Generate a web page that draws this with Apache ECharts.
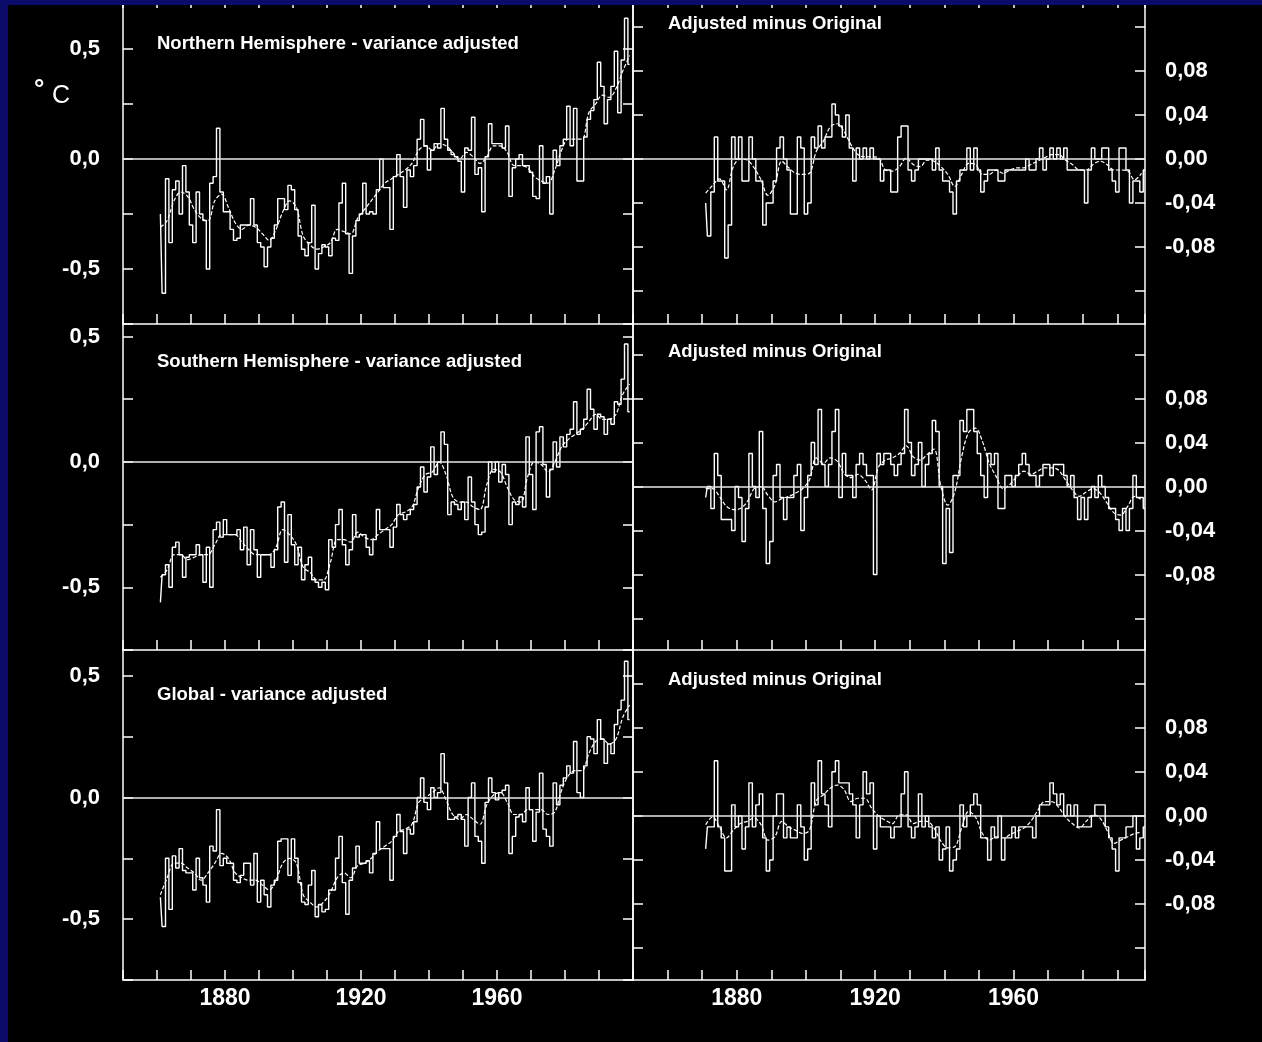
<!DOCTYPE html>
<html>
<head>
<meta charset="utf-8">
<title>Variance adjusted temperature series</title>
<script src="https://cdn.jsdelivr.net/npm/echarts@6/dist/echarts.min.js"></script>
<style>
  html, body { margin: 0; padding: 0; background: #000; }
  #chart { width: 1262px; height: 1042px; }
</style>
</head>
<body>
<div id="chart"></div>
<script>
// first year of each series (annual steps) and spacing of the smoothed curves
var tempStartYear = 1861;
var diffStartYear = 1871;
var smoothStepYears = 2;

// tick label years on the bottom axes
var yearLabels = [1880, 1920, 1960];
// right hand axis: ticks and labelled values
var diffTickValues = [-0.12, -0.08, -0.04, 0, 0.04, 0.08, 0.12];
var diffLabelValues = [-0.08, -0.04, 0, 0.04, 0.08];

// annual anomalies, degC, 1861-1999
var nhAnnual = [
  -0.25,-0.61,-0.09,-0.38,-0.14,-0.10,-0.25,-0.03,-0.15,-0.30,
  -0.38,-0.15,-0.25,-0.28,-0.50,-0.11,-0.08,0.14,-0.15,-0.24,
  -0.24,-0.32,-0.37,-0.36,-0.30,-0.30,-0.30,-0.18,-0.30,-0.38,
  -0.40,-0.49,-0.40,-0.36,-0.30,-0.18,-0.18,-0.23,-0.12,-0.14,
  -0.23,-0.35,-0.41,-0.44,-0.38,-0.21,-0.50,-0.43,-0.39,-0.40,
  -0.44,-0.36,-0.37,-0.20,-0.11,-0.34,-0.52,-0.35,-0.28,-0.25,
  -0.11,-0.25,-0.24,-0.25,-0.14,0.00,-0.13,-0.13,-0.32,-0.08,
  0.02,-0.08,-0.22,-0.05,-0.08,-0.03,0.09,0.18,0.06,-0.05,
  0.04,0.07,0.05,0.23,0.09,0.04,0.02,0.01,-0.01,-0.15,
  0.05,0.04,0.19,-0.07,-0.04,-0.24,0.01,0.16,0.07,0.07,
  0.07,0.05,0.15,-0.17,-0.04,0.00,0.02,-0.03,-0.03,-0.06,
  -0.17,-0.18,0.06,-0.11,-0.08,-0.25,0.04,-0.03,0.06,0.09,
  0.24,0.06,0.23,-0.10,-0.10,0.10,0.18,0.22,0.27,0.44,
  0.33,0.16,0.27,0.33,0.49,0.21,0.45,0.64,0.43
];
var shAnnual = [
  -0.56,-0.45,-0.41,-0.50,-0.34,-0.32,-0.37,-0.46,-0.38,-0.37,
  -0.37,-0.33,-0.37,-0.48,-0.34,-0.50,-0.27,-0.24,-0.30,-0.23,
  -0.29,-0.29,-0.29,-0.27,-0.35,-0.26,-0.41,-0.27,-0.35,-0.46,
  -0.37,-0.37,-0.37,-0.42,-0.35,-0.18,-0.16,-0.40,-0.21,-0.33,
  -0.41,-0.34,-0.47,-0.41,-0.38,-0.47,-0.48,-0.50,-0.48,-0.51,
  -0.31,-0.34,-0.25,-0.19,-0.33,-0.41,-0.35,-0.21,-0.30,-0.29,
  -0.29,-0.34,-0.37,-0.31,-0.19,-0.27,-0.27,-0.27,-0.34,-0.26,
  -0.17,-0.21,-0.23,-0.21,-0.19,-0.17,-0.10,-0.02,-0.12,-0.06,
  0.06,-0.05,0.00,0.12,0.07,-0.21,-0.16,-0.17,-0.19,-0.16,
  -0.23,-0.06,-0.16,-0.25,-0.29,-0.28,-0.18,0.00,-0.04,0.00,
  -0.08,-0.01,-0.05,-0.25,-0.16,-0.17,-0.14,-0.18,0.10,-0.05,
  -0.19,0.12,0.14,-0.01,-0.14,-0.03,0.08,-0.02,0.10,0.06,
  0.11,0.13,0.24,0.11,0.13,0.17,0.29,0.21,0.13,0.19,
  0.18,0.11,0.17,0.15,0.24,0.23,0.33,0.47,0.20
];
var glAnnual = [
  -0.41,-0.53,-0.25,-0.46,-0.24,-0.29,-0.21,-0.30,-0.31,-0.31,
  -0.38,-0.25,-0.33,-0.36,-0.43,-0.20,-0.22,-0.05,-0.28,-0.25,
  -0.27,-0.27,-0.34,-0.35,-0.32,-0.27,-0.27,-0.36,-0.23,-0.43,
  -0.34,-0.40,-0.45,-0.36,-0.34,-0.18,-0.17,-0.17,-0.32,-0.17,
  -0.25,-0.35,-0.43,-0.44,-0.36,-0.30,-0.49,-0.44,-0.47,-0.46,
  -0.38,-0.38,-0.25,-0.16,-0.35,-0.48,-0.34,-0.29,-0.20,-0.27,
  -0.27,-0.26,-0.31,-0.23,-0.10,-0.21,-0.21,-0.21,-0.34,-0.16,
  -0.07,-0.14,-0.23,-0.13,-0.15,-0.10,0.00,0.08,-0.02,-0.05,
  0.04,0.00,0.02,0.18,0.06,-0.09,-0.09,-0.08,-0.07,-0.09,
  -0.20,0.00,0.06,-0.16,-0.18,-0.27,-0.02,0.08,0.02,-0.01,
  0.02,0.03,0.05,-0.23,-0.16,-0.08,-0.07,-0.10,0.04,-0.05,
  -0.18,-0.06,0.10,-0.13,-0.16,-0.20,0.06,-0.03,0.05,0.08,
  0.13,0.10,0.23,0.02,0.00,0.13,0.25,0.24,0.18,0.32,
  0.24,0.14,0.22,0.18,0.30,0.36,0.40,0.56,0.32
];

// smoothed curves, every second year from 1861
var nhSmooth = [
  -0.31,-0.28,-0.19,-0.15,-0.17,-0.23,-0.27,-0.28,-0.19,-0.16,
  -0.22,-0.29,-0.32,-0.30,-0.31,-0.34,-0.37,-0.32,-0.24,-0.19,
  -0.22,-0.35,-0.39,-0.41,-0.40,-0.38,-0.32,-0.33,-0.34,-0.27,
  -0.23,-0.19,-0.15,-0.11,-0.09,-0.07,-0.05,-0.02,0.04,0.06,
  0.04,0.07,0.06,0.03,0.00,0.03,0.01,-0.02,0.01,0.06,
  0.06,0.03,-0.03,-0.03,-0.04,-0.08,-0.10,-0.11,-0.05,0.04,
  0.09,0.09,0.09,0.21,0.25,0.29,0.28,0.32,0.40,0.47
];
var shSmooth = [
  -0.46,-0.43,-0.37,-0.37,-0.39,-0.38,-0.37,-0.37,-0.33,-0.29,
  -0.29,-0.29,-0.32,-0.35,-0.37,-0.37,-0.37,-0.34,-0.27,-0.29,
  -0.33,-0.42,-0.44,-0.47,-0.47,-0.40,-0.31,-0.31,-0.32,-0.28,
  -0.30,-0.31,-0.29,-0.27,-0.25,-0.21,-0.20,-0.18,-0.10,-0.05,
  -0.04,0.00,-0.05,-0.14,-0.16,-0.16,-0.18,-0.19,-0.09,-0.03,
  -0.04,-0.10,-0.15,-0.16,-0.06,0.00,-0.01,-0.04,0.00,0.06,
  0.09,0.11,0.13,0.16,0.19,0.17,0.17,0.19,0.27,0.31
];
var glSmooth = [
  -0.40,-0.33,-0.27,-0.27,-0.29,-0.31,-0.34,-0.31,-0.27,-0.23,
  -0.25,-0.31,-0.33,-0.34,-0.34,-0.36,-0.38,-0.34,-0.27,-0.25,
  -0.27,-0.40,-0.43,-0.45,-0.43,-0.39,-0.33,-0.31,-0.33,-0.28,
  -0.27,-0.25,-0.22,-0.20,-0.18,-0.14,-0.13,-0.11,-0.02,0.00,
  0.02,0.04,-0.01,-0.07,-0.09,-0.07,-0.09,-0.11,-0.03,0.01,
  0.02,-0.02,-0.07,-0.07,-0.05,-0.05,-0.05,-0.07,-0.06,0.03,
  0.09,0.11,0.11,0.18,0.23,0.24,0.22,0.24,0.33,0.38
];

// adjusted minus original, degC, 1871-1998
var nhDiff = [
  -0.04,-0.07,-0.03,0.02,-0.02,-0.02,-0.09,-0.06,0.02,0.00,
  0.02,-0.02,-0.02,0.02,0.00,-0.02,-0.02,-0.06,-0.04,-0.04,
  -0.02,0.01,0.02,0.00,-0.01,-0.05,-0.05,0.02,0.01,-0.05,
  -0.04,0.02,0.01,0.03,0.01,0.02,0.02,0.05,0.04,0.03,
  0.02,0.04,0.01,-0.02,0.01,0.00,0.01,0.00,0.01,0.00,
  0.00,-0.02,-0.01,-0.01,-0.03,-0.03,0.02,0.03,0.03,-0.01,
  -0.02,-0.01,0.00,0.00,0.00,0.00,-0.01,0.01,-0.01,-0.02,
  -0.02,-0.03,-0.05,-0.02,-0.01,-0.01,0.01,-0.01,0.01,-0.01,
  -0.03,-0.02,-0.01,-0.01,-0.01,-0.02,-0.02,-0.01,-0.01,-0.01,
  -0.01,-0.01,-0.01,0.00,-0.01,-0.01,0.00,0.01,-0.01,0.00,
  0.01,0.00,0.01,0.00,0.01,-0.01,-0.01,-0.01,-0.01,-0.01,
  -0.04,-0.01,0.01,0.00,0.00,0.01,0.01,-0.01,-0.02,-0.03,
  0.01,0.01,-0.01,-0.04,-0.02,-0.02,-0.03,-0.01
];
var shDiff = [
  -0.01,0.00,-0.02,0.03,0.01,-0.03,-0.03,-0.03,-0.04,0.00,
  -0.01,-0.05,-0.02,0.03,0.00,-0.01,0.05,-0.02,-0.07,-0.05,
  0.01,0.02,-0.01,-0.03,-0.01,-0.01,0.01,0.02,-0.04,-0.01,
  0.01,0.04,0.02,0.07,0.02,0.00,0.02,0.05,0.07,-0.01,
  0.03,0.01,0.01,-0.01,0.02,0.03,0.02,0.01,0.01,-0.08,
  0.03,0.02,0.03,0.03,0.02,0.01,0.02,0.03,0.07,0.04,
  0.01,0.02,0.04,0.00,0.02,0.03,0.06,0.05,0.00,-0.07,
  -0.02,-0.06,0.01,0.01,0.06,0.05,0.07,0.07,0.05,0.03,
  0.01,-0.01,0.03,0.02,0.03,-0.02,-0.02,0.01,0.01,0.00,
  0.01,0.02,0.03,0.02,0.01,0.01,0.00,0.01,0.02,0.02,
  0.01,0.02,0.02,0.02,0.01,0.00,0.01,-0.01,-0.03,-0.01,
  -0.03,-0.01,0.00,-0.01,0.01,0.00,-0.01,-0.02,-0.02,-0.03,
  -0.04,-0.02,-0.04,-0.02,0.01,-0.01,-0.01,-0.02
];
var glDiff = [
  -0.03,-0.01,-0.01,0.05,-0.01,-0.02,-0.05,-0.05,0.01,-0.01,
  0.00,-0.03,-0.01,0.03,-0.01,0.01,0.02,-0.02,-0.05,-0.04,
  0.00,0.02,0.02,-0.02,-0.01,-0.02,-0.02,0.01,-0.01,-0.04,
  -0.03,0.03,0.01,0.05,0.02,0.01,-0.01,0.04,0.05,0.03,
  0.03,0.03,0.02,0.01,-0.02,0.01,0.04,0.02,0.03,-0.03,
  0.00,-0.01,-0.01,-0.01,-0.02,-0.01,-0.01,0.02,0.04,-0.01,
  -0.02,-0.01,0.02,-0.01,0.00,-0.01,-0.02,-0.01,-0.04,-0.03,
  -0.01,-0.05,-0.04,-0.03,0.01,-0.01,0.00,0.01,0.02,0.01,
  -0.02,-0.02,-0.04,-0.01,-0.02,0.00,-0.04,-0.02,-0.02,-0.01,
  -0.02,-0.01,-0.01,-0.01,-0.01,-0.02,0.00,0.01,0.01,0.01,
  0.03,0.02,0.01,0.02,0.00,0.01,0.00,0.01,-0.01,-0.01,
  -0.01,-0.01,0.00,0.01,0.01,0.01,-0.01,-0.02,-0.03,-0.05,
  -0.02,-0.02,-0.01,-0.01,0.00,-0.03,-0.02,-0.01
];

// smoothed differences, every second year from 1871
var nhDiffSmooth = [
  -0.031,-0.024,-0.018,-0.028,-0.007,0.000,-0.001,-0.008,-0.019,-0.033,
  -0.024,-0.002,-0.008,-0.013,-0.014,-0.013,0.007,0.016,0.029,0.032,
  0.025,0.013,0.004,0.002,0.002,0.001,-0.010,-0.011,-0.007,0.001,
  -0.005,-0.007,-0.001,-0.002,-0.007,-0.014,-0.025,-0.014,-0.004,-0.005,
  -0.014,-0.014,-0.010,-0.013,-0.010,-0.008,-0.008,-0.005,-0.002,0.001,
  0.004,0.004,-0.001,-0.005,-0.010,-0.010,-0.005,-0.002,-0.005,-0.010,
  -0.010,-0.011,-0.019,-0.013
];
var shDiffSmooth = [
  -0.002,-0.002,-0.009,-0.018,-0.021,-0.020,-0.014,-0.002,0.000,-0.008,
  -0.014,-0.011,-0.009,-0.006,-0.002,0.006,0.026,0.021,0.026,0.023,
  0.012,0.008,0.011,0.006,-0.003,0.018,0.024,0.026,0.030,0.037,
  0.027,0.024,0.029,0.034,0.000,-0.017,-0.005,0.027,0.049,0.053,
  0.041,0.021,0.009,-0.002,0.002,0.009,0.014,0.011,0.014,0.017,
  0.017,0.015,0.006,-0.003,-0.009,-0.005,-0.002,-0.006,-0.015,-0.024,
  -0.026,-0.018,-0.009,-0.012
];
var glDiffSmooth = [
  -0.008,-0.001,-0.010,-0.020,-0.013,-0.007,-0.005,-0.002,-0.008,-0.022,
  -0.019,-0.005,-0.010,-0.013,-0.016,-0.013,0.014,0.019,0.025,0.028,
  0.024,0.013,0.016,0.016,0.007,0.000,-0.004,-0.007,0.001,0.001,
  -0.007,-0.005,-0.005,-0.011,-0.023,-0.029,-0.028,-0.011,0.004,-0.001,
  -0.016,-0.022,-0.019,-0.020,-0.017,-0.014,-0.011,-0.005,0.005,0.013,
  0.013,0.008,-0.001,-0.007,-0.011,-0.005,0.001,-0.002,-0.013,-0.025,
  -0.022,-0.019,-0.016,-0.015
];

var leftTitles = [
  "Northern Hemisphere - variance adjusted",
  "Southern Hemisphere - variance adjusted",
  "Global - variance adjusted"
];
var rightTitle = "Adjusted minus Original";

// ---------------------------------------------------------------------------
var dom = document.getElementById("chart");
var myChart = echarts.init(dom, null, { renderer: "canvas" });

var FONT = "'Liberation Sans', Arial, sans-serif";
var WHITE = "#ffffff";

function toPairs(start, step, values) {
  return values.map(function (v, i) { return [start + i * step, v]; });
}

// pixel layout of the three rows, y ranges per column
var rows = [
  { top: 0,   height: 324, tMax: 0.7227, dMin: -0.15,  dMax: 0.1445 },
  { top: 324, height: 326, tMax: 0.55,   dMin: -0.1486, dMax: 0.1477 },
  { top: 650, height: 330, tMax: 0.606,  dMin: -0.149, dMax: 0.1506 }
];
var temps = [
  [nhAnnual, nhSmooth], [shAnnual, shSmooth], [glAnnual, glSmooth]
];
var diffs = [
  [nhDiff, nhDiffSmooth], [shDiff, shDiffSmooth], [glDiff, glDiffSmooth]
];

// axis line kept at the grid edge (not on zero)
var axisLine = { show: true, onZero: false, lineStyle: { color: WHITE, width: 1.5 } };
var tickStyle = { color: WHITE, width: 1.5 };
var labelText = { color: WHITE, fontFamily: FONT, fontWeight: "bold", fontSize: 22 };
var titleText = { color: WHITE, fontFamily: FONT, fontWeight: "bold", fontSize: 18.5 };

var grids = [], xAxes = [], yAxes = [], series = [], titles = [];

function zeroLine() {
  return {
    silent: true,
    symbol: ["none", "none"],
    label: { show: false },
    lineStyle: { color: "#e8e8e8", width: 1.5, type: "solid" },
    data: [{ yAxis: 0 }]
  };
}

function stepSeries(xi, yi, data) {
  return {
    type: "line", xAxisIndex: xi, yAxisIndex: yi, data: data,
    step: "middle", symbol: "none", silent: true,
    lineStyle: { color: WHITE, width: 1.4 },
    markLine: zeroLine()
  };
}

function smoothSeries(xi, yi, data) {
  return {
    type: "line", xAxisIndex: xi, yAxisIndex: yi, data: data,
    smooth: 0.35, symbol: "none", silent: true,
    lineStyle: { color: WHITE, width: 1.2, type: [4, 2] }
  };
}

rows.forEach(function (row, r) {
  var isBottom = r === rows.length - 1;
  [0, 1].forEach(function (col) {
    var g = grids.length;
    grids.push({
      left: col === 0 ? 123 : 633, width: col === 0 ? 510 : 512,
      top: row.top, height: row.height,
      containLabel: false, outerBoundsMode: "none"
    });

    var xi = xAxes.length;
    xAxes.push({
      gridIndex: g, type: "value", position: "bottom",
      min: 1850, max: col === 0 ? 2000 : 1998, interval: 10,
      axisLine: axisLine,
      axisTick: { inside: true, length: 10, lineStyle: tickStyle },
      axisLabel: {
        show: isBottom, margin: 7, fontSize: 23,
        color: WHITE, fontFamily: FONT, fontWeight: "bold",
        formatter: function (v) { return yearLabels.indexOf(v) >= 0 ? String(v) : ""; }
      },
      splitLine: { show: false }
    });
    if (r === 0) {
      xAxes.push({
        gridIndex: g, type: "value", position: "top",
        min: 1850, max: col === 0 ? 2000 : 1998, interval: 10,
        axisLine: axisLine,
        axisTick: { inside: true, length: 8, lineStyle: tickStyle },
        axisLabel: { show: false }, splitLine: { show: false }
      });
    }

    var yi = yAxes.length;
    if (col === 0) {
      yAxes.push({
        gridIndex: g, type: "value", position: "left",
        min: -0.75, max: row.tMax, interval: 0.25,
        axisLine: axisLine,
        axisTick: { inside: true, length: 10, lineStyle: tickStyle },
        axisLabel: Object.assign({
          margin: 23,
          formatter: function (v) {
            var h = v * 2;
            if (Math.abs(h - Math.round(h)) > 1e-6) return "";
            return v.toFixed(1).replace(".", ",");
          }
        }, labelText),
        splitLine: { show: false }
      });
      yAxes.push({
        gridIndex: g, type: "value", position: "right",
        min: -0.75, max: row.tMax, interval: 0.25,
        axisLine: axisLine,
        axisTick: { inside: true, length: 10, lineStyle: tickStyle },
        axisLabel: { show: false }, splitLine: { show: false }
      });
      series.push(stepSeries(xi, yi, toPairs(tempStartYear, 1, temps[r][0])));
      series.push(smoothSeries(xi, yi, toPairs(tempStartYear, smoothStepYears, temps[r][1])));
      titles.push({
        text: leftTitles[r], left: 157, top: [34, 352, 685][r], padding: 0,
        textStyle: titleText
      });
    } else {
      yAxes.push({
        gridIndex: g, type: "value", position: "right",
        min: row.dMin, max: row.dMax,
        axisLine: axisLine,
        axisTick: { inside: true, length: 10, customValues: diffTickValues, lineStyle: tickStyle },
        axisLabel: Object.assign({
          margin: 20, customValues: diffLabelValues,
          formatter: function (v) { return v.toFixed(2).replace(".", ","); }
        }, labelText),
        splitLine: { show: false }
      });
      yAxes.push({
        gridIndex: g, type: "value", position: "left",
        min: row.dMin, max: row.dMax,
        axisLine: axisLine,
        axisTick: { inside: true, length: 10, customValues: diffTickValues, lineStyle: tickStyle },
        axisLabel: { show: false }, splitLine: { show: false }
      });
      series.push(stepSeries(xi, yi, toPairs(diffStartYear, 1, diffs[r][0])));
      series.push(smoothSeries(xi, yi, toPairs(diffStartYear, smoothStepYears, diffs[r][1])));
      titles.push({
        text: rightTitle, left: 668, top: [14, 342, 670][r], padding: 0,
        textStyle: titleText
      });
    }
  });
});

var option = {
  backgroundColor: "#000000",
  animation: false,
  title: titles,
  grid: grids,
  xAxis: xAxes,
  yAxis: yAxes,
  series: series,
  graphic: [
    { type: "rect", left: 0, top: 0, shape: { width: 8, height: 1042 },
      style: { fill: "#0b0b6c" }, z: 100, silent: true },
    { type: "rect", left: 0, top: 0, shape: { width: 1262, height: 5 },
      style: { fill: "#0b0b6c" }, z: 100, silent: true },
    { type: "text", left: 34, top: 77, z: 100, silent: true,
      style: { text: "°", fill: WHITE, font: "bold 26px " + FONT } },
    { type: "text", left: 52, top: 84, z: 100, silent: true,
      style: { text: "C", fill: WHITE, font: "25px " + FONT } }
  ]
};

myChart.setOption(option);
window.addEventListener("resize", myChart.resize);
</script>
</body>
</html>
